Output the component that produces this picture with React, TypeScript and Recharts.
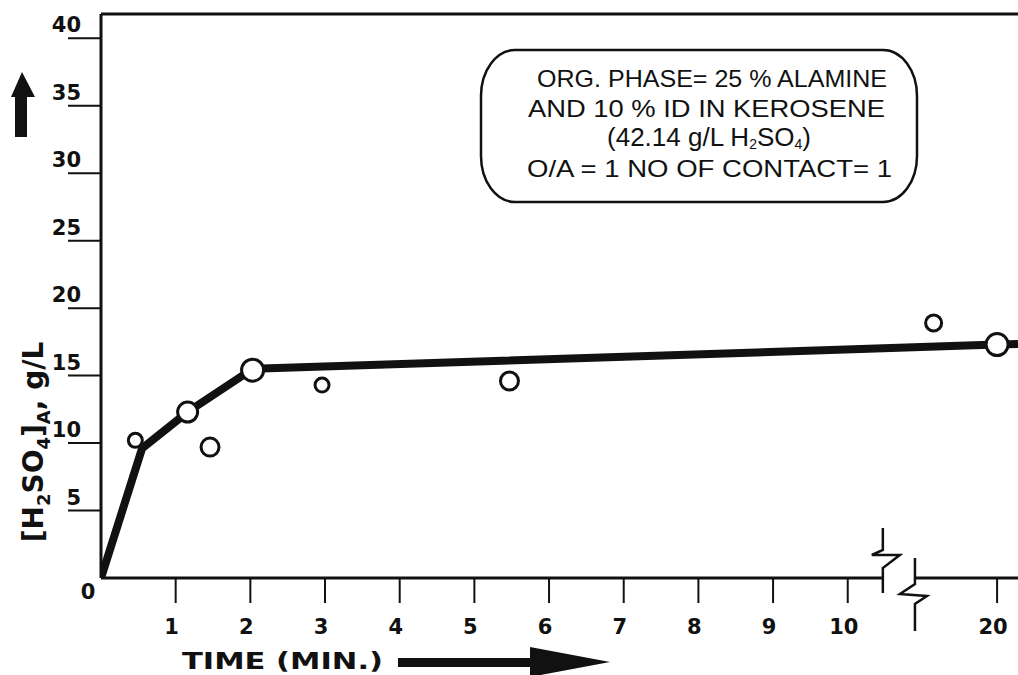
import React from 'react';
import {
  ComposedChart, Line, Scatter, XAxis, YAxis, ReferenceLine, ReferenceDot,
} from 'recharts';

// measured points (time in min, [H2SO4] in g/L)
const pointTimes = [0.46, 1.16, 1.46, 2.03, 2.96, 5.47, 19.15, 20];
const pointConc = [10.2, 12.3, 9.7, 15.4, 14.3, 14.6, 18.9, 17.3];

// hand-drawn trend line
const lineTimes = [0, 0.55, 1.16, 2.03, 20, 20.28];
const lineConc = [0, 9.6, 12.3, 15.5, 17.3, 17.35];

const xTickTimes = [1, 2, 3, 4, 5, 6, 7, 8, 9, 10, 20];
const yTicks = [0, 5, 10, 15, 20, 25, 30, 35, 40];

// marker radius per point (style only)
const markerR = [7, 10, 9, 11, 7, 9, 8, 11];

const BREAK_AT = 10.5;
const FONT = '"Liberation Sans", Arial, sans-serif';
const HEAVY = '"DejaVu Sans", "Liberation Sans", sans-serif';
const tickStyle = { fontFamily: HEAVY, fontWeight: 'bold' as const, fontSize: 21, fill: '#111' };

// axis break: everything after 10.5 min is shifted so 20 min sits at 12
const xPos = (t: number) => (t <= BREAK_AT ? t : t - 8);
const xLabel = (p: number) => String(p > BREAK_AT ? p + 8 : p);

const X_MAX = 12.28;
const Y_MAX = 41.8;

const points = pointTimes.map((t, i) => ({ x: xPos(t), y: pointConc[i], i }));
const trend = lineTimes.map((t, i) => ({ x: xPos(t), y: lineConc[i] }));

const XTick = (props: any) => {
  const { x, y, payload } = props;
  return (
    <g>
      <line x1={x} y1={y} x2={x} y2={y + 25} stroke="#111" strokeWidth={2} />
      <text x={x - 4} y={y + 56} textAnchor="middle" style={tickStyle}>
        {xLabel(payload.value)}
      </text>
    </g>
  );
};

const YTick = (props: any) => {
  const { x, y, payload } = props;
  if (payload.value === 0) {
    return (
      <text x={x - 13} y={y + 21} textAnchor="middle" style={tickStyle}>0</text>
    );
  }
  return (
    <g>
      <line x1={x - 33} y1={y} x2={x} y2={y} stroke="#111" strokeWidth={2} />
      <text x={x - 20} y={y - 6} textAnchor="end" style={tickStyle}>
        {payload.value}
      </text>
    </g>
  );
};

const Marker = (props: any) => {
  const { cx, cy, payload } = props;
  if (cx == null || cy == null) return null;
  return <circle cx={cx} cy={cy} r={markerR[payload.i]} fill="#fff" stroke="#111" strokeWidth={3} />;
};

const BreakLeft = (props: any) => {
  const { cx, cy } = props;
  return (
    <path
      d={`M${cx},${cy - 50} L${cx},${cy - 28} L${cx - 11},${cy - 23} L${cx + 17},${cy - 23} L${cx},${cy - 10} L${cx},${cy + 15}`}
      fill="none" stroke="#111" strokeWidth={2.5}
    />
  );
};

const BreakRight = (props: any) => {
  const { cx, cy } = props;
  return (
    <path
      d={`M${cx},${cy - 20} L${cx},${cy + 6} L${cx - 15},${cy + 16} L${cx + 12},${cy + 18} L${cx},${cy + 26} L${cx},${cy + 53}`}
      fill="none" stroke="#111" strokeWidth={2.5}
    />
  );
};

export default function App() {
  return (
    <div style={{ position: 'absolute', left: 0, top: 0, width: 1018, height: 675, background: '#fff' }}>
      <ComposedChart width={1018} height={675} margin={{ top: 14, right: 0, bottom: 37, left: 0 }}>
        <XAxis
          type="number"
          dataKey="x"
          domain={[0, X_MAX]}
          ticks={xTickTimes.map(xPos)}
          tick={<XTick />}
          tickLine={false}
          tickSize={0}
          tickMargin={0}
          axisLine={false}
          height={60}
          allowDataOverflow
        />
        <YAxis
          type="number"
          dataKey="y"
          domain={[0, Y_MAX]}
          ticks={yTicks}
          tick={<YTick />}
          tickLine={false}
          tickSize={0}
          tickMargin={0}
          axisLine={{ stroke: '#111', strokeWidth: 3 }}
          width={101}
          allowDataOverflow
        />
        <ReferenceLine y={Y_MAX} stroke="#111" strokeWidth={3} ifOverflow="visible" />
        <ReferenceLine segment={[{ x: 0, y: 0 }, { x: 10.47, y: 0 }]} stroke="#111" strokeWidth={3} ifOverflow="visible" />
        <ReferenceLine segment={[{ x: 10.9, y: 0 }, { x: X_MAX, y: 0 }]} stroke="#111" strokeWidth={3} ifOverflow="visible" />
        <ReferenceDot x={10.47} y={0} r={0} shape={<BreakLeft />} ifOverflow="visible" />
        <ReferenceDot x={10.9} y={0} r={0} shape={<BreakRight />} ifOverflow="visible" />
        <Line
          data={trend}
          dataKey="y"
          type="linear"
          stroke="#111"
          strokeWidth={8}
          dot={false}
          isAnimationActive={false}
        />
        <Scatter data={points} dataKey="y" shape={<Marker />} isAnimationActive={false} />
      </ComposedChart>

      <svg width={1018} height={675} style={{ position: 'absolute', left: 0, top: 0, pointerEvents: 'none' }}>
        {/* up arrow next to y axis */}
        <path d="M15,137 L15,97 L11,97 L22,72 L35,97 L27,97 L27,137 Z" fill="#111" />
        {/* y axis title */}
        <text
          transform="translate(43,442) rotate(-90)"
          textAnchor="middle"
          fontFamily={HEAVY}
          fontWeight="bold"
          fontSize={28}
          fill="#111"
        >
          [H<tspan fontSize={18} dy={7}>2</tspan>
          <tspan dy={-7}>SO</tspan>
          <tspan fontSize={18} dy={7}>4</tspan>
          <tspan dy={-7}>]</tspan>
          <tspan fontSize={18} dy={7}>A</tspan>
          <tspan dy={-7}>, g/L</tspan>
        </text>

        {/* x axis title and arrow */}
        <text x={182} y={669} fontFamily={HEAVY} fontWeight="bold" fontSize={23} fill="#111" textLength={201} lengthAdjust="spacingAndGlyphs">
          TIME (MIN.)
        </text>
        <path d="M398,658 L530,658 L530,647 L610,662 L530,677 L530,667 L398,667 Z" fill="#111" />

        {/* annotation box */}
        <rect x={481} y={50} width={436} height={152} rx={34} ry={46} fill="#fff" stroke="#111" strokeWidth={2.5} />
        <g fontFamily={FONT} fontSize={24} fill="#111">
          <text x={537} y={87} textLength={350} lengthAdjust="spacingAndGlyphs">ORG. PHASE= 25 % ALAMINE</text>
          <text x={528} y={117} textLength={357} lengthAdjust="spacingAndGlyphs">AND 10 % ID IN KEROSENE</text>
          <text x={709} y={146} textAnchor="middle" fontSize={26}>
            (42.14 g/L H<tspan fontSize={14} dy={3}>2</tspan>
            <tspan dy={-3}>SO</tspan>
            <tspan fontSize={14} dy={3}>4</tspan>
            <tspan dy={-3}>)</tspan>
          </text>
          <text x={527} y={177} textLength={365} lengthAdjust="spacingAndGlyphs">O/A = 1 NO OF CONTACT= 1</text>
        </g>
      </svg>
    </div>
  );
}
